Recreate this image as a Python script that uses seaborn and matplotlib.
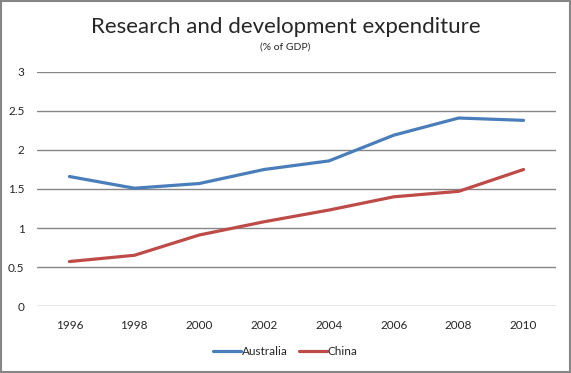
"""
plot.py
-------
R&D expenditure (% of GDP), Australia vs China, 1996-2010.
"""

import matplotlib
matplotlib.use("Agg")
import matplotlib.pyplot as plt
import pandas as pd
import seaborn as sns

years = ["1996", "1998", "2000", "2002", "2004", "2006", "2008", "2010"]
australia = [1.66, 1.51, 1.57, 1.75, 1.86, 2.19, 2.41, 2.38]
china = [0.57, 0.65, 0.91, 1.08, 1.23, 1.40, 1.47, 1.75]
series_names = ["Australia", "China"]
y_ticks = [0, 0.5, 1, 1.5, 2, 2.5, 3]
y_tick_labels = ["0", "0.5", "1", "1.5", "2", "2.5", "3"]

df = pd.DataFrame({
    "Year": years * 2,
    "Value": australia + china,
    "Country": [series_names[0]] * len(years) + [series_names[1]] * len(years),
})
df["pos"] = df["Year"].map({y: i for i, y in enumerate(years)})

sns.set_style("white")
plt.rcParams["font.family"] = ["Lato", "DejaVu Sans"]

fig = plt.figure(figsize=(5.71, 3.73), dpi=100)
ax = fig.add_axes([0.0648, 0.1796, 0.9089, 0.6274])

palette = {"Australia": "#4A7EBB", "China": "#BE4B48"}
sns.lineplot(data=df, x="pos", y="Value", hue="Country", palette=palette,
             linewidth=2.3, ax=ax, legend=False)

ax.set_xlim(-0.5, len(years) - 0.5)
ax.set_ylim(0, 3)
ax.set_xticks(range(len(years)))
ax.set_xticklabels(years, fontsize=8.5)
ax.set_yticks(y_ticks)
ax.set_yticklabels(y_tick_labels, fontsize=8.5)
ax.tick_params(axis="x", length=0, pad=10)
ax.tick_params(axis="y", length=0, pad=9)
ax.set_xlabel("")
ax.set_ylabel("")
ax.yaxis.grid(True, color="#868686", linewidth=1)
ax.set_axisbelow(True)
for spine in ax.spines.values():
    spine.set_visible(False)

fig.text(0.5, 0.927, "Research and development expenditure",
         ha="center", va="center", fontsize=16)
fig.text(0.5, 0.873, "(% of GDP)", ha="center", va="center", fontsize=7.5)

handles = [plt.Line2D([], [], color=palette[n], linewidth=2.3) for n in series_names]
fig.legend(handles, series_names, loc="center", bbox_to_anchor=(0.5, 0.057),
           ncol=2, frameon=False, fontsize=8.5, handlelength=2.3,
           handletextpad=0.1, columnspacing=1.0)

border = plt.Rectangle((0.001, 0.002), 0.997, 0.996, transform=fig.transFigure,
                       fill=False, edgecolor="#868686", linewidth=1.5)
fig.patches.append(border)

fig.savefig("out.png", dpi=100)
plt.close(fig)
